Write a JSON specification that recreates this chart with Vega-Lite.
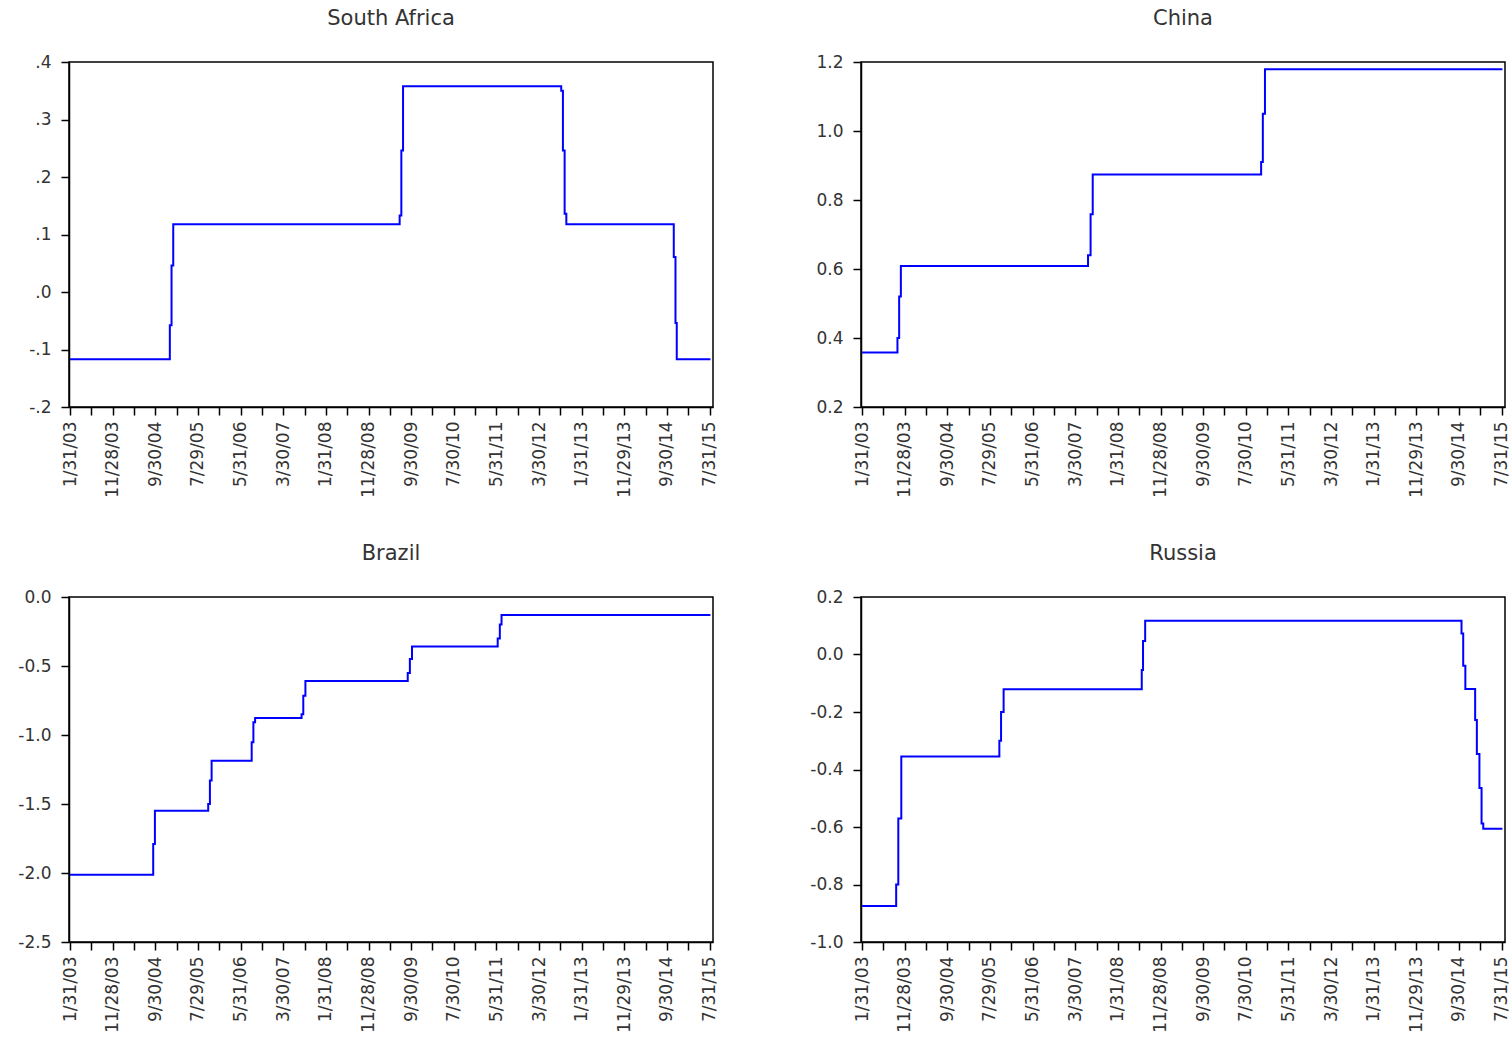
{
  "$schema": "https://vega.github.io/schema/vega-lite/v6.json",
  "background": "white",
  "padding": {"left": 17, "top": 6, "right": 2, "bottom": 2},
  "params": [
    {"name": "labs", "value": ["1/31/03","11/28/03","9/30/04","7/29/05","5/31/06","3/30/07","1/31/08","11/28/08","9/30/09","7/30/10","5/31/11","3/30/12","1/31/13","11/29/13","9/30/14","7/31/15"]}
  ],
  "datasets": {
    "sa": [
      {"t": 0, "v": -0.117}, {"t": 23.4, "v": -0.058}, {"t": 23.8, "v": 0.046}, {"t": 24.2, "v": 0.118},
      {"t": 77.3, "v": 0.133}, {"t": 77.7, "v": 0.246}, {"t": 78.1, "v": 0.358},
      {"t": 115.2, "v": 0.35}, {"t": 115.6, "v": 0.246}, {"t": 116.0, "v": 0.136}, {"t": 116.4, "v": 0.118},
      {"t": 141.6, "v": 0.061}, {"t": 142.0, "v": -0.054}, {"t": 142.3, "v": -0.117}, {"t": 150.2, "v": -0.117}
    ],
    "cn": [
      {"t": 0, "v": 0.358}, {"t": 8.3, "v": 0.40}, {"t": 8.7, "v": 0.52}, {"t": 9.1, "v": 0.609},
      {"t": 53.0, "v": 0.64}, {"t": 53.6, "v": 0.759}, {"t": 54.1, "v": 0.874},
      {"t": 93.6, "v": 0.91}, {"t": 94.0, "v": 1.05}, {"t": 94.5, "v": 1.179}, {"t": 150.2, "v": 1.179}
    ],
    "br": [
      {"t": 0, "v": -2.012}, {"t": 19.5, "v": -1.79}, {"t": 19.9, "v": -1.549},
      {"t": 32.4, "v": -1.50}, {"t": 32.8, "v": -1.33}, {"t": 33.2, "v": -1.187},
      {"t": 42.6, "v": -1.053}, {"t": 43.0, "v": -0.908}, {"t": 43.4, "v": -0.876},
      {"t": 54.3, "v": -0.849}, {"t": 54.7, "v": -0.716}, {"t": 55.2, "v": -0.608},
      {"t": 79.2, "v": -0.55}, {"t": 79.7, "v": -0.45}, {"t": 80.2, "v": -0.358},
      {"t": 100.3, "v": -0.30}, {"t": 100.8, "v": -0.2}, {"t": 101.2, "v": -0.13}, {"t": 150.2, "v": -0.13}
    ],
    "ru": [
      {"t": 0, "v": -0.875}, {"t": 8.0, "v": -0.80}, {"t": 8.5, "v": -0.57}, {"t": 9.2, "v": -0.355},
      {"t": 32.2, "v": -0.30}, {"t": 32.6, "v": -0.2}, {"t": 33.2, "v": -0.121},
      {"t": 65.6, "v": -0.054}, {"t": 65.9, "v": 0.047}, {"t": 66.4, "v": 0.117},
      {"t": 140.6, "v": 0.073}, {"t": 141.0, "v": -0.039}, {"t": 141.5, "v": -0.120},
      {"t": 143.8, "v": -0.228}, {"t": 144.2, "v": -0.346}, {"t": 144.8, "v": -0.464},
      {"t": 145.3, "v": -0.588}, {"t": 145.7, "v": -0.606}, {"t": 150.2, "v": -0.606}
    ]
  },
  "columns": 2,
  "spacing": {"row": 190, "column": 148},
  "bounds": "flush",
  "concat": [
    {
      "title": "South Africa",
      "width": 644, "height": 345,
      "data": {"name": "sa"},
      "mark": {"type": "line", "interpolate": "step-after", "color": "#0000ff", "strokeWidth": 2},
      "encoding": {
        "x": {"field": "t", "type": "quantitative", "title": null,
              "scale": {"domain": [-0.25, 150.8], "nice": false, "zero": false},
              "axis": {"values": [0,5,10,15,20,25,30,35,40,45,50,55,60,65,70,75,80,85,90,95,100,105,110,115,120,125,130,135,140,145,150],
                       "labelExpr": "datum.value % 10 == 0 ? labs[datum.value / 10] : ''"}},
        "y": {"field": "v", "type": "quantitative", "title": null,
              "scale": {"domain": [-0.2, 0.4], "nice": false, "zero": false},
              "axis": {"values": [-0.2,-0.1,0,0.1,0.2,0.3,0.4],
                       "labelExpr": "(datum.value < 0 ? '-' : '') + replace(format(abs(datum.value), '.1f'), '0.', '.')"}}
      }
    },
    {
      "title": "China",
      "width": 644, "height": 345,
      "data": {"name": "cn"},
      "mark": {"type": "line", "interpolate": "step-after", "color": "#0000ff", "strokeWidth": 2},
      "encoding": {
        "x": {"field": "t", "type": "quantitative", "title": null,
              "scale": {"domain": [-0.25, 150.8], "nice": false, "zero": false},
              "axis": {"values": [0,5,10,15,20,25,30,35,40,45,50,55,60,65,70,75,80,85,90,95,100,105,110,115,120,125,130,135,140,145,150],
                       "labelExpr": "datum.value % 10 == 0 ? labs[datum.value / 10] : ''"}},
        "y": {"field": "v", "type": "quantitative", "title": null,
              "scale": {"domain": [0.2, 1.2], "nice": false, "zero": false},
              "axis": {"values": [0.2,0.4,0.6,0.8,1.0,1.2],
                       "labelExpr": "(datum.value < 0 ? '-' : '') + format(abs(datum.value), '.1f')"}}
      }
    },
    {
      "title": "Brazil",
      "width": 644, "height": 345,
      "data": {"name": "br"},
      "mark": {"type": "line", "interpolate": "step-after", "color": "#0000ff", "strokeWidth": 2},
      "encoding": {
        "x": {"field": "t", "type": "quantitative", "title": null,
              "scale": {"domain": [-0.25, 150.8], "nice": false, "zero": false},
              "axis": {"values": [0,5,10,15,20,25,30,35,40,45,50,55,60,65,70,75,80,85,90,95,100,105,110,115,120,125,130,135,140,145,150],
                       "labelExpr": "datum.value % 10 == 0 ? labs[datum.value / 10] : ''"}},
        "y": {"field": "v", "type": "quantitative", "title": null,
              "scale": {"domain": [-2.5, 0], "nice": false, "zero": false},
              "axis": {"values": [-2.5,-2.0,-1.5,-1.0,-0.5,0],
                       "labelExpr": "(datum.value < 0 ? '-' : '') + format(abs(datum.value), '.1f')"}}
      }
    },
    {
      "title": "Russia",
      "width": 644, "height": 345,
      "data": {"name": "ru"},
      "mark": {"type": "line", "interpolate": "step-after", "color": "#0000ff", "strokeWidth": 2},
      "encoding": {
        "x": {"field": "t", "type": "quantitative", "title": null,
              "scale": {"domain": [-0.25, 150.8], "nice": false, "zero": false},
              "axis": {"values": [0,5,10,15,20,25,30,35,40,45,50,55,60,65,70,75,80,85,90,95,100,105,110,115,120,125,130,135,140,145,150],
                       "labelExpr": "datum.value % 10 == 0 ? labs[datum.value / 10] : ''"}},
        "y": {"field": "v", "type": "quantitative", "title": null,
              "scale": {"domain": [-1.0, 0.2], "nice": false, "zero": false},
              "axis": {"values": [-1.0,-0.8,-0.6,-0.4,-0.2,0,0.2],
                       "labelExpr": "(datum.value < 0 ? '-' : '') + format(abs(datum.value), '.1f')"}}
      }
    }
  ],
  "config": {
    "view": {"stroke": "#000000", "strokeWidth": 1.5},
    "axis": {"grid": false, "domainColor": "#000000", "domainWidth": 1.5, "tickColor": "#000000", "tickWidth": 1.5, "tickSize": 8,
             "labelFont": "DejaVu Sans", "labelFontSize": 17, "labelColor": "#333333", "labelPadding": 10, "labelOverlap": false, "labelFlush": false},
    "axisX": {"labelAngle": 270, "labelAlign": "right", "labelBaseline": "middle", "labelPadding": 6},
    "title": {"font": "DejaVu Sans", "fontSize": 21, "fontWeight": "normal", "color": "#333333", "anchor": "middle", "offset": 24.5}
  }
}
